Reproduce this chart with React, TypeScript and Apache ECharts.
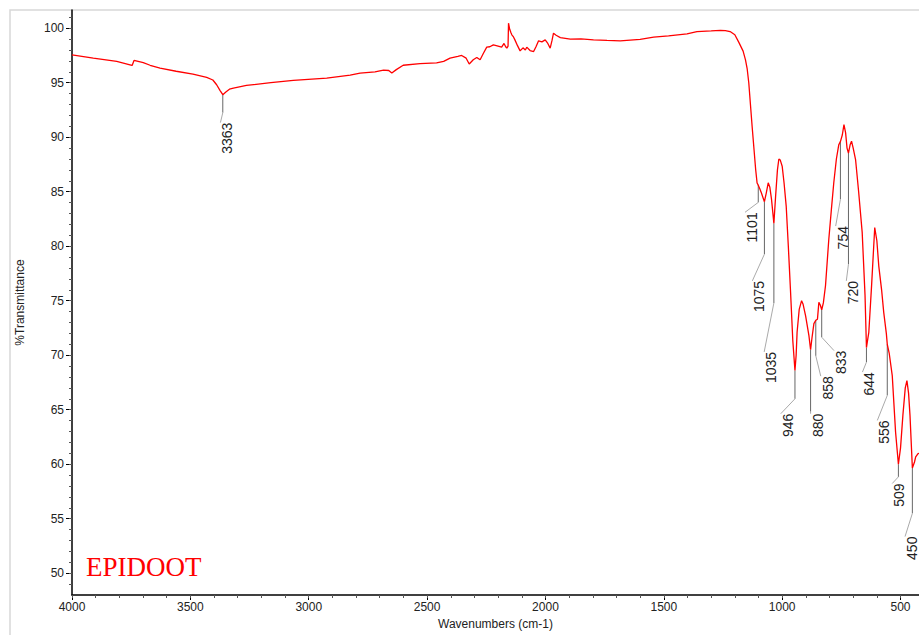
import React, { useEffect, useRef } from "react";
import * as echarts from "echarts";

// Spectrum (wavenumber cm-1, %T)
const wavenumbers = [
  4000, 3910, 3811, 3755, 3746, 3738, 3725, 3699, 3670, 3628, 3560, 3489, 3431, 3405, 3389, 3375, 3363, 3350, 3335, 3318,
  3263, 3160, 3065, 2924, 2825, 2783, 2720, 2684, 2662, 2649, 2630, 2601, 2530, 2460, 2430, 2403, 2370, 2354, 2335, 2322,
  2305, 2290, 2276, 2262, 2248, 2235, 2220, 2200, 2185, 2175, 2168, 2163, 2158, 2156, 2151, 2146, 2142, 2135, 2129, 2118,
  2107, 2095, 2085, 2079, 2065, 2050, 2040, 2029, 2015, 2001, 1990, 1980, 1972, 1966, 1955, 1937, 1895, 1850, 1797, 1740,
  1684, 1600, 1543, 1480, 1402, 1360, 1300, 1261, 1240, 1220, 1200, 1183, 1165, 1155, 1148, 1141, 1127, 1112, 1106, 1101,
  1095, 1088, 1075, 1067, 1059, 1052, 1045, 1035, 1028, 1020, 1014, 1008, 1000, 992, 983, 974, 965, 955, 946, 941,
  937, 928, 918, 912, 901, 887, 880, 874, 866, 858, 851, 845, 839, 833, 826, 817, 810, 803, 792, 782,
  771, 761, 754, 746, 739, 732, 726, 720, 713, 707, 700, 690, 677, 662, 650, 644, 639, 634, 622, 609,
  600, 592, 580, 571, 560, 556, 548, 535, 521, 509, 500, 490, 480, 473, 466, 460, 450, 441, 436, 426, 422,
];
const transmittance = [
  97.56, 97.26, 96.95, 96.64, 96.58, 97.04, 96.98, 96.85, 96.6, 96.34, 96.05, 95.79, 95.48, 95.25, 94.81, 94.3, 93.9, 94.15, 94.4, 94.51,
  94.75, 95.0, 95.21, 95.42, 95.7, 95.88, 96.0, 96.15, 96.12, 95.88, 96.2, 96.6, 96.75, 96.82, 96.95, 97.26, 97.42, 97.5, 97.25, 96.71,
  97.1, 97.32, 97.1, 97.7, 98.26, 98.3, 98.47, 98.35, 98.26, 98.6, 98.3, 98.17, 98.35, 100.46, 99.9, 99.6, 99.39, 99.2, 98.93, 98.4,
  97.92, 98.2, 98.0, 98.26, 97.95, 97.86, 98.3, 98.84, 98.75, 98.93, 98.6, 98.17, 98.9, 99.54, 99.35, 99.14, 98.99, 99.02, 98.93, 98.88,
  98.84, 98.98, 99.18, 99.3, 99.48, 99.69, 99.75, 99.8, 99.78, 99.69, 99.4, 98.7, 97.9, 97.1, 96.3, 94.97, 91.0, 87.04, 85.8, 85.6,
  85.3, 84.9, 84.08, 84.9, 85.82, 85.4, 84.3, 82.1, 84.5, 87.0, 88.0, 87.9, 87.34, 85.8, 83.68, 80.0, 76.0, 71.3, 68.6, 70.0,
  72.1, 74.2, 75.0, 74.7, 73.6, 71.8, 70.5, 71.6, 72.9, 73.2, 73.3, 74.85, 74.6, 74.17, 74.8, 76.37, 78.5, 80.64, 83.4, 85.82,
  88.0, 89.3, 89.6, 90.2, 91.16, 90.4, 89.0, 88.55, 89.3, 89.63, 89.0, 87.95, 85.0, 81.27, 75.5, 70.7, 71.4, 72.1, 76.5, 81.71,
  80.5, 78.2, 76.0, 73.93, 72.0, 71.0, 70.2, 68.13, 62.95, 60.0, 61.5, 64.5, 67.0, 67.66, 66.5, 64.46, 59.66, 60.2, 60.67, 60.97, 61.0,
];

// Peak annotations
const peakLabels = [3363, 1101, 1075, 1035, 946, 880, 858, 833, 754, 720, 644, 556, 509, 450];
const peakValues = [93.9, 85.6, 84.08, 82.1, 68.6, 70.5, 73.2, 74.17, 89.6, 88.55, 70.7, 71.0, 60.0, 59.66];
// leader layout (data coords): bend %T, label anchor wavenumber, label anchor %T
const leaderBend = [92.25, 84.02, 79.27, 74.79, 66.0, 64.82, 69.94, 71.65, 84.3, 78.35, 69.36, 66.31, 58.84, 55.49];
const labelAnchorX = [3373, 1157, 1126, 1076, 1006, 880, 837, 781, 774, 729, 661, 598, 535, 481];
const labelAnchorY = [91.34, 83.11, 76.82, 70.3, 64.63, 64.63, 68.08, 70.42, 81.85, 76.82, 68.45, 64.02, 58.23, 53.36];

const xMajor = [4000, 3500, 3000, 2500, 2000, 1500, 1000, 500];
const xMinor: number[] = [];
for (let v = 4000; v >= 500; v -= 100) xMinor.push(v);
const yMajor = [50, 55, 60, 65, 70, 75, 80, 85, 90, 95, 100];
const yMinor: number[] = [];
for (let v = 49; v <= 101; v += 1) yMinor.push(v);

const FONT = '"Liberation Sans", Arial, sans-serif';

export default function App() {
  const ref = useRef<HTMLDivElement>(null);
  useEffect(() => {
    if (!ref.current) return;
    const chart = echarts.init(ref.current, undefined, { renderer: "svg" });
    const spectrum = wavenumbers.map((w, i) => [w, transmittance[i]]);
    const annData = peakLabels.map((w, i) => [w, peakValues[i], leaderBend[i], labelAnchorX[i], labelAnchorY[i]]);
    const baseX = {
      type: "value",
      inverse: true,
      min: 422,
      max: 4000,
      position: "bottom",
      gridIndex: 0,
      splitLine: { show: false },
    };
    const baseY = {
      type: "value",
      min: 48,
      max: 101.67,
      position: "left",
      gridIndex: 0,
      splitLine: { show: false },
    };
    chart.setOption({
      animation: false,
      backgroundColor: "#ffffff",
      title: {
        text: "EPIDOOT",
        left: 86,
        top: 553,
        padding: 0,
        textStyle: { fontFamily: '"Liberation Serif", "Times New Roman", serif', fontSize: 27, fontWeight: "normal", color: "#ff0000" },
      },
      graphic: [
        {
          type: "rect",
          shape: { x: 10, y: 10, width: 1200, height: 1200 },
          style: { fill: "none", stroke: "#d8d8d8", lineWidth: 1.5 },
          silent: true,
          z: -10,
        },
      ],
      grid: { left: 72, top: 10, right: 0, bottom: 38, containLabel: false },
      xAxis: [
        {
          ...baseX,
          name: "Wavenumbers (cm-1)",
          nameLocation: "middle",
          nameGap: 23,
          nameTextStyle: { fontFamily: FONT, fontSize: 12, color: "#222" },
          axisLine: { show: true, lineStyle: { color: "#000", width: 1.5 } },
          axisTick: { show: true, customValues: xMajor, length: 5, lineStyle: { color: "#000" } },
          axisLabel: {
            customValues: xMajor,
            fontFamily: FONT,
            fontSize: 12,
            color: "#222",
            margin: 6,
            formatter: (v: number) => String(Math.round(v)),
          },
        },
        {
          ...baseX,
          axisLine: { show: false },
          axisTick: { show: true, customValues: xMinor, length: 3, lineStyle: { color: "#555" } },
          axisLabel: { show: false },
        },
      ],
      yAxis: [
        {
          ...baseY,
          name: "%Transmittance",
          nameLocation: "middle",
          nameGap: 46,
          nameTextStyle: { fontFamily: FONT, fontSize: 12, color: "#222" },
          axisLine: { show: true, lineStyle: { color: "#000", width: 1.5 } },
          axisTick: { show: true, customValues: yMajor, length: 6, lineStyle: { color: "#000" } },
          axisLabel: {
            customValues: yMajor,
            fontFamily: FONT,
            fontSize: 12,
            color: "#222",
            margin: 8,
            formatter: (v: number) => String(Math.round(v)),
          },
        },
        {
          ...baseY,
          axisLine: { show: false },
          axisTick: { show: true, customValues: yMinor, length: 3, lineStyle: { color: "#555" } },
          axisLabel: { show: false },
        },
      ],
      series: [
        {
          type: "line",
          xAxisIndex: 0,
          yAxisIndex: 0,
          data: spectrum,
          showSymbol: false,
          smooth: false,
          lineStyle: { color: "#ff0000", width: 1.3 },
          z: 3,
        },
        {
          type: "custom",
          xAxisIndex: 0,
          yAxisIndex: 0,
          data: annData,
          encode: { x: 0, y: 1 },
          clip: false,
          z: 2,
          renderItem: (params: any, api: any) => {
            const i = params.dataIndex;
            const w = api.value(0);
            const p0 = api.coord([w, api.value(1)]);
            const p1 = api.coord([w, api.value(2)]);
            const p2 = api.coord([api.value(3), api.value(4)]);
            return {
              type: "group",
              children: [
                {
                  type: "line",
                  shape: { x1: p0[0], y1: p0[1], x2: p1[0], y2: p1[1] },
                  style: { stroke: "#666", lineWidth: 1 },
                },
                {
                  type: "line",
                  shape: { x1: p1[0], y1: p1[1], x2: p2[0], y2: p2[1] },
                  style: { stroke: "#aaa", lineWidth: 1 },
                },
                {
                  type: "text",
                  x: p2[0],
                  y: p2[1],
                  rotation: Math.PI / 2,
                  style: {
                    text: String(peakLabels[i]),
                    font: `14px ${FONT}`,
                    fill: "#222",
                    align: "right",
                    verticalAlign: "top",
                    textAlign: "right",
                    textVerticalAlign: "top",
                  },
                },
              ],
            };
          },
        },
      ],
    });
    return () => chart.dispose();
  }, []);
  return <div ref={ref} style={{ position: "fixed", left: 0, top: 0, width: 919, height: 635 }} />;
}
